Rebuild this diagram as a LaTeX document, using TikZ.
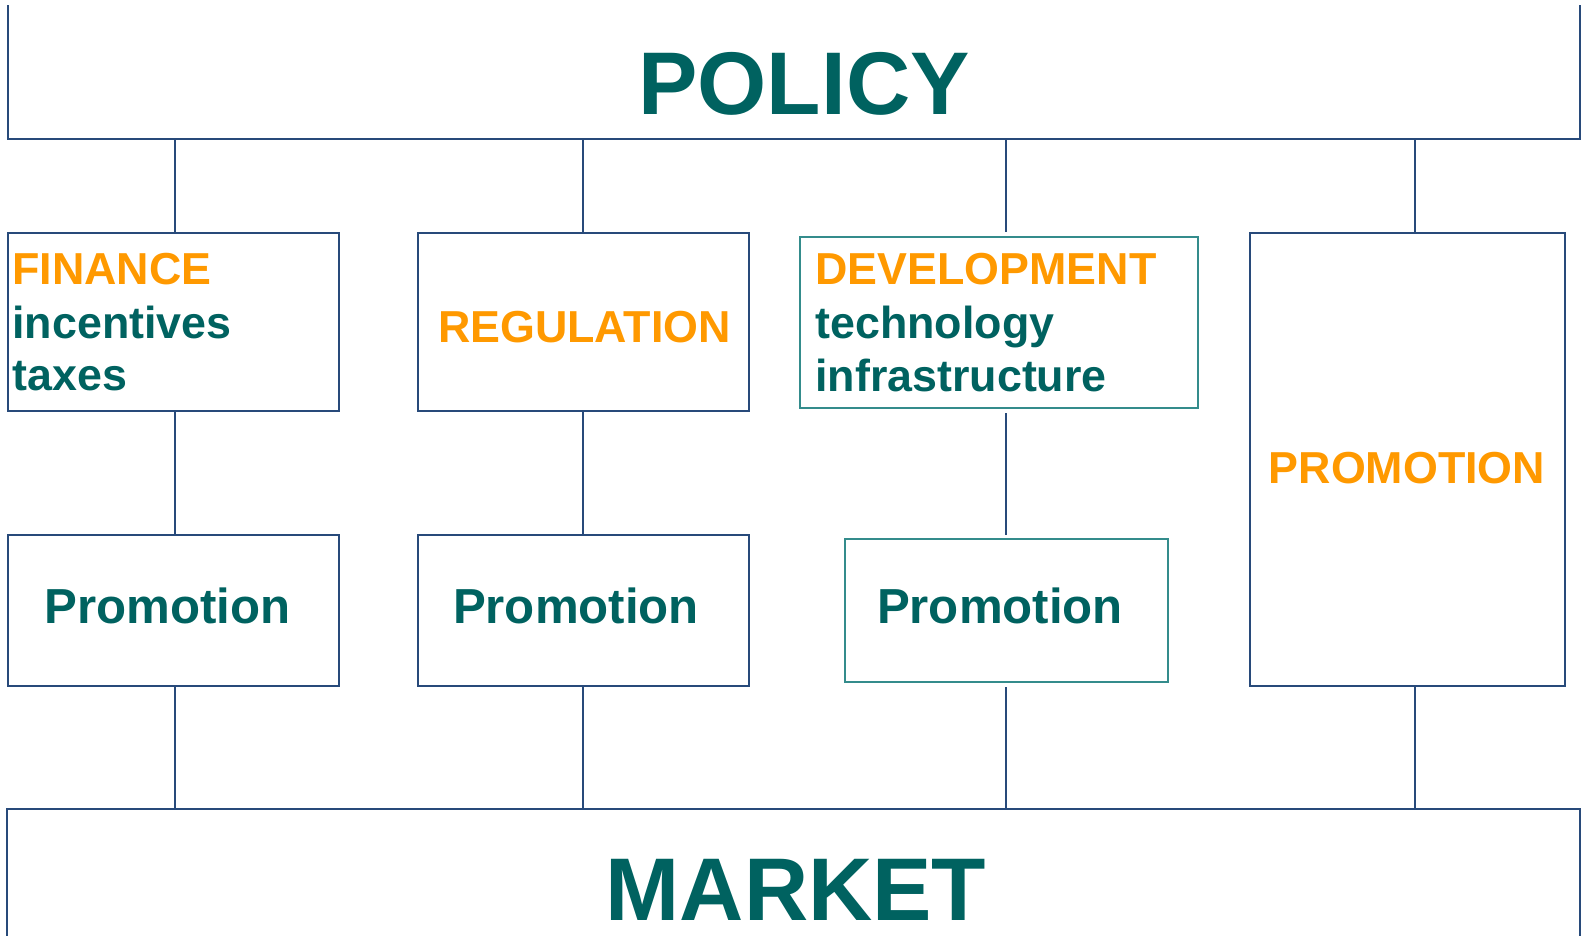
\documentclass[tikz,border=0pt]{standalone}
\usepackage{fontspec}
\setsansfont{Liberation Sans}
\usetikzlibrary{positioning}
\definecolor{lineBlue}{RGB}{40,74,122}
\definecolor{boxTeal}{RGB}{52,140,140}
\definecolor{textTeal}{RGB}{0,98,96}
\definecolor{headOrange}{RGB}{255,153,0}

\begin{document}
\begin{tikzpicture}[x=0.5pt,y=-0.5pt,
  boxsize/.style 2 args={minimum width=#1*0.5pt,minimum height=#2*0.5pt},
  box/.style={draw=lineBlue,line width=1pt,inner sep=0pt,outer sep=0pt},
  tealbox/.style={draw=boxTeal,line width=0.75pt,inner sep=0pt,outer sep=0pt},
  link/.style={draw=lineBlue,line width=1pt},
  bigword/.style={font=\sffamily\bfseries\fontsize{44.5}{53}\selectfont,text=textTeal,inner sep=0pt,anchor=base},
  head/.style={font=\sffamily\bfseries\fontsize{22.4}{27}\selectfont,text=headOrange,inner sep=0pt,anchor=base west},
  item/.style={font=\sffamily\bfseries\fontsize{22.4}{27}\selectfont,text=textTeal,inner sep=0pt,anchor=base west},
  promo/.style={font=\sffamily\bfseries\fontsize{24.6}{30}\selectfont,text=textTeal,inner sep=0pt,anchor=base}]
\useasboundingbox (0,0) rectangle (1584,936);
\clip (0,6) rectangle (1584,936);
%% top and bottom bars
\node [box,boxsize={1572}{189}] (policy) at (794,44.5) {};
\node [bigword] (policyText) at (804,115) {POLICY};
\node [box,boxsize={1573}{191}] (market) at (793.5,904.5) {};
\node [bigword] (marketText) at (796,920) {MARKET};
%the columns
\coordinate (colA) at (175,0);
\coordinate (colB) at (583,0);
\coordinate (colC) at (1006,0);
\coordinate (colD) at (1415,0);
%the boxes
\node [box,boxsize={331}{178}] (finBox) at (173.5,322) {};
\node [box,boxsize={331}{178}] (regBox) at (583.5,322) {};
\node [tealbox,boxsize={398}{171}] (devBox) at (999,322.5) {};
\node [box,boxsize={315}{453}] (promBig) at (1407.5,459.5) {};
\node [box,boxsize={331}{151}] (promA) at (173.5,610.5) {};
\node [box,boxsize={331}{151}] (promB) at (583.5,610.5) {};
\node [tealbox,boxsize={323}{143}] (promC) at (1006.5,610.5) {};
%texts of the boxes
\node [head] (finHead) at (12,285) {FINANCE};
\node [item] (finIncentives) at (12,338) {incentives};
\node [item] (finTaxes) at (12,390) {taxes};
\node [head,anchor=base] (regHead) at (584.5,342) {REGULATION};
\node [head] (devHead) at (815,285) {DEVELOPMENT};
\node [item] (devTechnology) at (815,338) {technology};
\node [item] (devInfrastructure) at (815,391) {infrastructure};
\node [head,anchor=base] (promHead) at (1407,483) {PROMOTION};
\node [promo] (promAText) at (167.5,623) {Promotion};
\node [promo] (promBText) at (576,623) {Promotion};
\node [promo] (promCText) at (1000,623) {Promotion};
%drawings of lines
\draw [link] (policy.south -| colA) -- (finBox.north -| colA);
\draw [link] (finBox.south -| colA) -- (promA.north -| colA);
\draw [link] (promA.south -| colA) -- (market.north -| colA);

\draw [link] (policy.south -| colB) -- (regBox.north -| colB);
\draw [link] (regBox.south -| colB) -- (promB.north -| colB);
\draw [link] (promB.south -| colB) -- (market.north -| colB);

\draw [link,shorten >=2.5pt] (policy.south -| colC) -- (devBox.north -| colC);
\draw [link,shorten <=2.5pt,shorten >=2pt] (devBox.south -| colC) -- (promC.north -| colC);
\draw [link,shorten <=2.5pt] (promC.south -| colC) -- (market.north -| colC);

\draw [link] (policy.south -| colD) -- (promBig.north -| colD);
\draw [link] (promBig.south -| colD) -- (market.north -| colD);
\end{tikzpicture}
\end{document}
